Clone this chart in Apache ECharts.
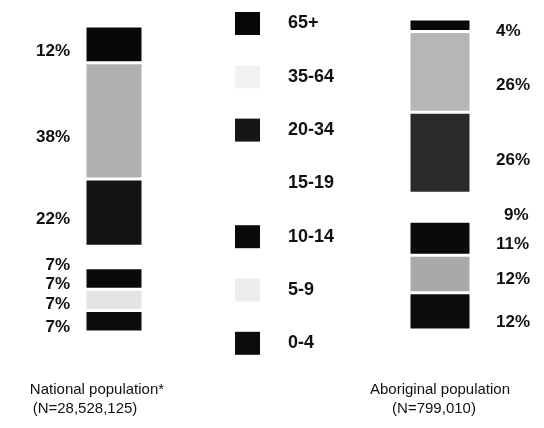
<!DOCTYPE html>
<html><head><meta charset="utf-8">
<script src="https://cdn.jsdelivr.net/npm/echarts@6/dist/echarts.min.js"></script>
<style>html,body{margin:0;padding:0;background:#fff}#c{width:544px;height:428px}</style>
</head><body><div id="c"></div>
<script>
const ageGroups = ['0-4','5-9','10-14','15-19','20-34','35-64','65+'];
const nationalValues = [7,7,7,7,22,38,12];
const aboriginalValues = [12,12,11,9,26,26,4];
const populations = ['National population*','Aboriginal population'];
const populationN = ['(N=28,528,125)','(N=799,010)'];

const natColors = ['#0c0c0c','#e4e4e4','#0a0a0a','#ffffff','#131313','#b0b0b0','#080808'];
const abColors  = ['#0c0c0c','#a9a9a9','#0a0a0a','#ffffff','#2a2a2a','#b6b6b6','#080808'];
const legendColors = ['#0c0c0c','#ececec','#0a0a0a','#ffffff','#161616','#f2f2f2','#080808'];
// label nudges (style only)
const natLabelOffset = [[0,6],[0,4],[0,6],[0,8],[0,7],[0,16],[0,7]];
const abLabelOffset  = [[0,11],[0,5],[0,6],[8,8],[0,8],[0,13],[0,6]];

const font = 'Liberation Sans, Arial, sans-serif';
const series = [];
ageGroups.forEach((g,i)=>{
  series.push({
    name:g, type:'bar', stack:'nat', xAxisIndex:0, yAxisIndex:0, barWidth:'100%',
    itemStyle:{color:natColors[i], borderColor:'#fff', borderWidth:1.5},
    label:{show:true, position:'left', distance:15, offset:natLabelOffset[i], formatter:p=>p.value+'%',
      color:'#111', fontFamily:font, fontSize:17, fontWeight:'bold'},
    data:[nationalValues[i]]
  });
  series.push({
    name:g, type:'bar', stack:'ab', xAxisIndex:1, yAxisIndex:1, barWidth:'100%',
    itemStyle:{color:abColors[i], borderColor:'#fff', borderWidth:1.5},
    label:{show:true, position:'right', distance:25, offset:abLabelOffset[i], formatter:p=>p.value+'%',
      color:'#111', fontFamily:font, fontSize:17, fontWeight:'bold'},
    data:[aboriginalValues[i]]
  });
});

const chart = echarts.init(document.getElementById('c'), null, {renderer:'canvas'});
chart.setOption({
  animation:false,
  backgroundColor:'#fff',
  legend:{
    orient:'vertical', left:230, top:7, itemWidth:25, itemHeight:23, itemGap:30.3,
    icon:'rect', selectedMode:false,
    textStyle:{fontFamily:font, fontSize:18, fontWeight:'bold', color:'#111', padding:[0,0,0,23]},
    data: ageGroups.slice().reverse().map(g=>{
      const i = ageGroups.indexOf(g);
      return {name:g, itemStyle:{color:legendColors[i], borderWidth:0}};
    })
  },
  grid:[
    {left:85, width:58, top:26, bottom:96},
    {left:409, width:62, top:19, bottom:98}
  ],
  xAxis:[
    {type:'category', gridIndex:0, data:[populations[0]], axisLine:{show:false}, axisTick:{show:false},
     axisLabel:{margin:48, interval:0, padding:[0,34,0,0], lineHeight:19,
       formatter:(v)=>'{a|'+v+'}\n{b|'+populationN[0]+'}',
       rich:{a:{fontFamily:font,fontSize:15,color:'#111',lineHeight:19},
             b:{fontFamily:font,fontSize:15,color:'#111',lineHeight:19,padding:[0,24,0,0]}}}},
    {type:'category', gridIndex:1, data:[populations[1]], axisLine:{show:false}, axisTick:{show:false},
     axisLabel:{margin:50, interval:0, lineHeight:19,
       formatter:(v)=>'{a|'+v+'}\n{b|'+populationN[1]+'}',
       rich:{a:{fontFamily:font,fontSize:15,color:'#111',lineHeight:19},
             b:{fontFamily:font,fontSize:15,color:'#111',lineHeight:19,padding:[0,12,0,0]}}}}
  ],
  yAxis:[
    {type:'value', gridIndex:0, min:0, max:100, show:false},
    {type:'value', gridIndex:1, min:0, max:100, show:false}
  ],
  series:series
});
</script></body></html>
